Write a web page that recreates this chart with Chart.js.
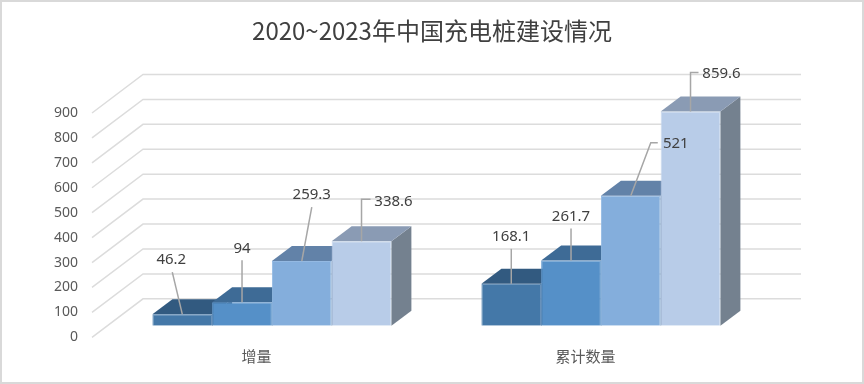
<!DOCTYPE html>
<html lang="zh">
<head>
    <meta charset="UTF-8">
    <title>2020~2023年中国充电桩建设情况</title>
    <style>
        html, body { margin: 0; padding: 0; background: #fff; }
        #chart { display: block; }
    </style>
</head>
<body>
    <canvas id="chart" width="864" height="384"></canvas>
    <script src="https://cdn.jsdelivr.net/npm/chart.js@4/dist/chart.umd.min.js"></script>
    <script>
        const categories = ['增量', '累计数量'];
        const years = ['2020', '2021', '2022', '2023'];
        const values2020 = [46.2, 168.1];
        const values2021 = [94, 261.7];
        const values2022 = [259.3, 521];
        const values2023 = [338.6, 859.6];
        const yTicks = [0, 100, 200, 300, 400, 500, 600, 700, 800, 900];

        const frontColors = ['#4478a8', '#5590c8', '#84aedc', '#b8cce8'];
        const edgeColors = ['#5585b2', '#659bcf', '#94b9e2', '#c6d6ec'];
        const topColors = ['#325a80', '#3e6b96', '#6282a8', '#8a9bb4'];
        const sideColors = ['#2f5274', '#3c6690', '#5f7d9f', '#74818f'];

        // depth of the walls and of the bars, in px
        const wall = { dx: 51, dy: 38.5 };
        const bar = { dx: 20, dy: 15 };
        // bars stand part way back on the floor
        const shift = { x: 15.4, y: -11.6 };

        // leader line bends and label centre, relative to the top middle of the bar
        const leaders = [
            [{ pts: [[-10, -42]], label: [-11, -54] }, { pts: [[0, -35]], label: [0, -47] }],
            [{ pts: [[0, -42]], label: [0, -54] }, { pts: [[0, -32]], label: [0, -44] }],
            [{ pts: [[10, -54]], label: [10, -66] }, { pts: [[20, -53], [27, -53]], label: [45, -52] }],
            [{ pts: [[0, -42], [9, -42]], label: [32, -40] }, { pts: [[0, -39], [8, -39]], label: [31, -38] }]
        ];

        const bars3d = {
            id: 'bars3d',
            beforeDatasetsDraw(chart) {
                const { ctx, chartArea, scales } = chart;
                ctx.save();
                // walls
                ctx.strokeStyle = '#dcdcdc';
                ctx.lineWidth = 1.5;
                yTicks.forEach(v => {
                    const y = scales.y.getPixelForValue(v);
                    ctx.beginPath();
                    ctx.moveTo(chartArea.left, y);
                    ctx.lineTo(chartArea.left + wall.dx, y - wall.dy);
                    ctx.lineTo(chartArea.right + wall.dx, y - wall.dy);
                    ctx.stroke();
                });
                ctx.restore();

                ctx.save();
                ctx.translate(shift.x, shift.y);
                chart.data.datasets.forEach((ds, i) => {
                    chart.getDatasetMeta(i).data.forEach(el => {
                        const l = el.x - el.width / 2, r = el.x + el.width / 2;
                        ctx.fillStyle = sideColors[i];
                        ctx.beginPath();
                        ctx.moveTo(r, el.y);
                        ctx.lineTo(r + bar.dx, el.y - bar.dy);
                        ctx.lineTo(r + bar.dx, el.base - bar.dy);
                        ctx.lineTo(r, el.base);
                        ctx.closePath();
                        ctx.fill();
                        ctx.fillStyle = topColors[i];
                        ctx.beginPath();
                        ctx.moveTo(l, el.y);
                        ctx.lineTo(l + bar.dx, el.y - bar.dy);
                        ctx.lineTo(r + bar.dx, el.y - bar.dy);
                        ctx.lineTo(r, el.y);
                        ctx.closePath();
                        ctx.fill();
                    });
                });
                // the fronts are drawn by chart.js inside this translate
            },
            afterDatasetsDraw(chart) {
                const { ctx } = chart;
                ctx.restore();

                ctx.save();
                ctx.font = '15px "Noto Sans", sans-serif';
                ctx.textAlign = 'center';
                ctx.textBaseline = 'middle';
                chart.data.datasets.forEach((ds, i) => {
                    chart.getDatasetMeta(i).data.forEach((el, j) => {
                        const x0 = el.x + shift.x, y0 = el.y + shift.y;
                        const lead = leaders[i][j];
                        ctx.strokeStyle = '#a6a6a6';
                        ctx.lineWidth = 1.5;
                        ctx.beginPath();
                        ctx.moveTo(x0, y0);
                        lead.pts.forEach(p => ctx.lineTo(x0 + p[0], y0 + p[1]));
                        ctx.stroke();
                        ctx.fillStyle = '#404040';
                        ctx.fillText(String(ds.data[j]), x0 + lead.label[0], y0 + lead.label[1]);
                    });
                });
                // outer frame
                ctx.strokeStyle = '#d9d9d9';
                ctx.lineWidth = 2;
                ctx.strokeRect(1, 1, chart.width - 2, chart.height - 2);
                ctx.restore();
            }
        };

        new Chart(document.getElementById('chart'), {
            type: 'bar',
            data: {
                labels: categories,
                datasets: [values2020, values2021, values2022, values2023].map((d, i) => ({
                    label: years[i],
                    data: d,
                    backgroundColor: frontColors[i],
                    borderColor: edgeColors[i],
                    borderWidth: 1,
                    categoryPercentage: 0.7264,
                    barPercentage: 1,
                    yAxisID: 'y'
                }))
            },
            options: {
                responsive: false,
                animation: false,
                plugins: {
                    legend: { display: false },
                    tooltip: { enabled: false },
                    title: {
                        display: true,
                        text: '2020~2023年中国充电桩建设情况',
                        color: '#404040',
                        font: { family: '"Noto Sans CJK SC", sans-serif', size: 24, weight: 'normal' },
                        padding: { top: 16.6, bottom: 67.6 }
                    }
                },
                scales: {
                    x: {
                        grid: { display: false, drawTicks: false },
                        border: { display: false },
                        afterFit(s) { s.height = 46.7; },
                        ticks: {
                            padding: 10,
                            color: '#595959',
                            font: { family: '"Noto Sans CJK SC", sans-serif', size: 15 }
                        }
                    },
                    y: {
                        min: 0,
                        max: 900,
                        grid: { display: false, drawTicks: false },
                        border: { display: false },
                        afterFit(s) { s.width = 92; },
                        afterBuildTicks(s) { s.ticks = yTicks.map(v => ({ value: v })); },
                        ticks: {
                            padding: 14,
                            color: '#595959',
                            font: { family: '"Noto Sans", sans-serif', size: 14 }
                        }
                    },
                    // empty axis that keeps room on the right, the title stays centred on the page
                    spacer: {
                        position: 'right',
                        grid: { display: false, drawTicks: false },
                        border: { display: false },
                        ticks: { display: false },
                        afterFit(s) { s.width = 114; }
                    }
                }
            },
            plugins: [bars3d]
        });
    </script>
</body>
</html>
